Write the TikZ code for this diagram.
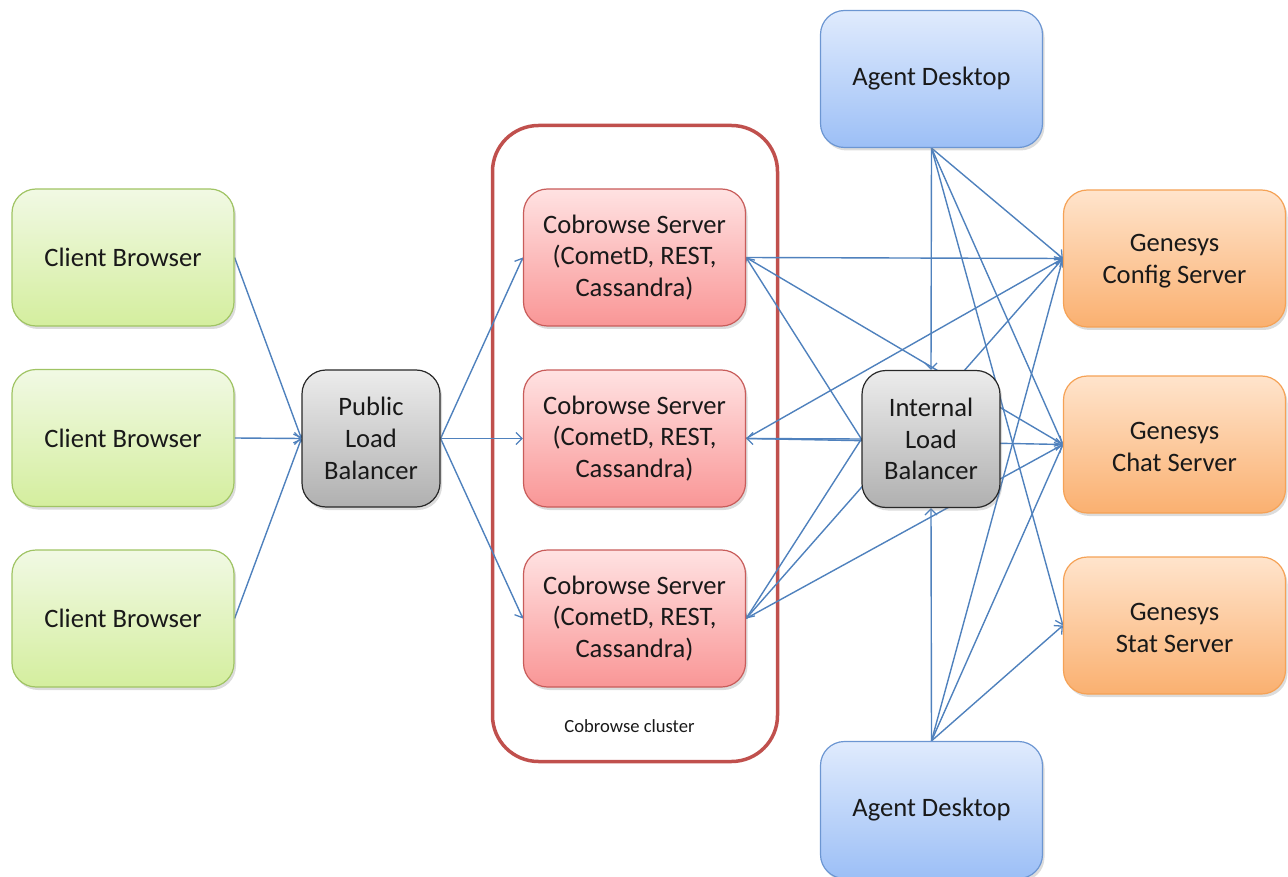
\documentclass[tikz,border=0pt]{standalone}
\usepackage{fontspec}
\setmainfont{Carlito}
\usetikzlibrary{arrows.meta,shadows,backgrounds}

\definecolor{linkblue}{RGB}{79,129,189}
\definecolor{txt}{RGB}{25,25,25}
\definecolor{grnTop}{RGB}{241,249,228}
\definecolor{grnBot}{RGB}{212,238,158}
\definecolor{grnLine}{RGB}{160,196,100}
\definecolor{redTop}{RGB}{255,226,226}
\definecolor{redBot}{RGB}{249,150,150}
\definecolor{redLine}{RGB}{200,92,90}
\definecolor{gryTop}{RGB}{236,236,236}
\definecolor{gryBot}{RGB}{176,176,176}
\definecolor{gryLine}{RGB}{40,40,40}
\definecolor{bluTop}{RGB}{224,235,253}
\definecolor{bluBot}{RGB}{156,191,246}
\definecolor{bluLine}{RGB}{108,150,210}
\definecolor{orgTop}{RGB}{255,228,204}
\definecolor{orgBot}{RGB}{250,176,112}
\definecolor{orgLine}{RGB}{245,162,86}
\definecolor{clusterRed}{RGB}{192,80,77}

\tikzset{
  box/.style={rounded corners=24pt, line width=1.2pt, align=center,
    text=txt, font=\fontsize{26.6}{31.8}\selectfont,
    drop shadow={shadow xshift=2pt, shadow yshift=-3pt, opacity=0.28},
    inner sep=0pt},
  wide/.style={box, minimum width=222pt, minimum height=137pt},
  square/.style={box, minimum width=138pt, minimum height=137pt},
  clientbox/.style={wide, draw=grnLine, top color=grnTop, bottom color=grnBot},
  serverbox/.style={wide, draw=redLine, top color=redTop, bottom color=redBot},
  balancer/.style={square, draw=gryLine, top color=gryTop, bottom color=gryBot},
  agentbox/.style={wide, draw=bluLine, top color=bluTop, bottom color=bluBot},
  genesysbox/.style={wide, draw=orgLine, top color=orgTop, bottom color=orgBot},
  link/.style={draw=linkblue, line width=1.4pt,
    -{Straight Barb[length=6pt, width=12pt, line width=1.3pt]}},
}

\begin{document}
\begin{tikzpicture}[x=1pt, y=-1pt]
  \useasboundingbox (0,0) rectangle (1288,877);

  % clients and public balancer
  \node[clientbox] (cb1) at (123,257.5) {Client Browser};
  \node[clientbox] (cb2) at (123,438)   {Client Browser};
  \node[clientbox] (cb3) at (123,618.5) {Client Browser};
  \node[balancer]  (plb) at (371,438.5) {Public\\Load\\Balancer};

  % cobrowse servers
  \node[serverbox] (cs1) at (634.5,257.5) {Cobrowse Server\\(CometD, REST,\\Cassandra)};
  \node[serverbox] (cs2) at (634.5,438.5) {Cobrowse Server\\(CometD, REST,\\Cassandra)};
  \node[serverbox] (cs3) at (634.5,618.5) {Cobrowse Server\\(CometD, REST,\\Cassandra)};
  \node[font=\fontsize{18.6}{21}\selectfont, text=txt] (clusterlabel) at (629.5,726) {Cobrowse cluster};

  % agents and internal balancer
  \node[agentbox] (ad1) at (931.5,79)  {Agent Desktop};
  \node[agentbox] (ad2) at (931.5,810) {Agent Desktop};
  \node[balancer] (ilb) at (931,439)   {Internal\\Load\\Balancer};

  % Genesys back end
  \node[genesysbox] (gcfg)  at (1174.5,258.5) {\strut Genesys\\Config Server};
  \node[genesysbox] (gchat) at (1174.5,444.5) {\strut Genesys\\Chat Server};
  \node[genesysbox] (gstat) at (1174.5,625.5) {\strut Genesys\\Stat Server};

  \begin{scope}[on background layer]
    % cluster frame
    \node[draw=clusterRed, line width=3.5pt, rounded corners=46pt,
          minimum width=285pt, minimum height=636pt] (cluster) at (635,443.5) {};

    % clients -> public balancer -> servers
    \foreach \c in {cb1,cb2,cb3} \draw[link] (\c.east) -- (plb.west);
    \foreach \s in {cs1,cs2,cs3} \draw[link] (plb.east) -- (\s.west);

    % internal balancer -> servers
    \foreach \s in {cs1,cs2,cs3} \draw[link] (ilb.west) -- (\s.east);

    % servers -> Genesys
    \foreach \s in {cs1,cs2,cs3} {
      \draw[link] (\s.east) -- (gcfg.west);
      \draw[link] (\s.east) -- (gchat.west);
    }

    % agents -> internal balancer and Genesys
    \draw[link] (ad1.south) -- (ilb.north);
    \draw[link] (ad2.north) -- (ilb.south);
    \foreach \a/\p in {ad1/south, ad2/north}
      \foreach \g in {gcfg,gchat,gstat}
        \draw[link] (\a.\p) -- (\g.west);
  \end{scope}
\end{tikzpicture}
\end{document}
